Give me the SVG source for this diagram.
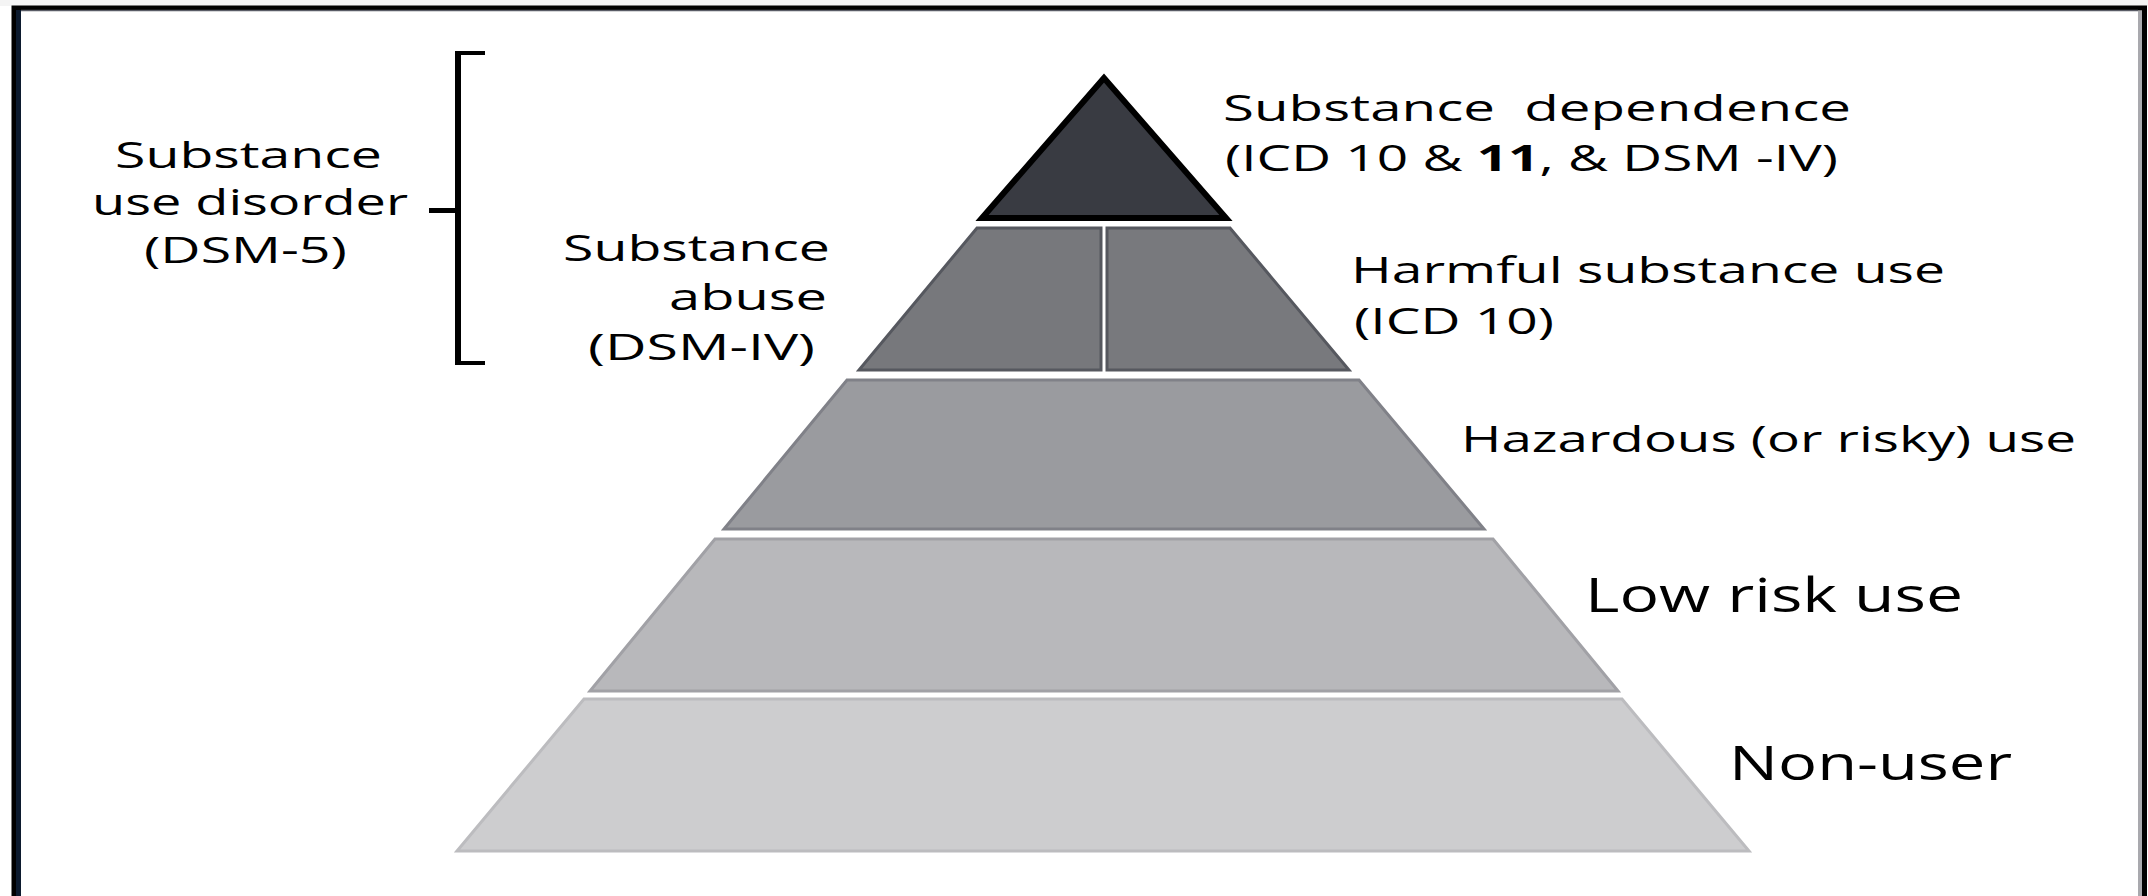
<svg xmlns="http://www.w3.org/2000/svg" width="2148" height="896" viewBox="0 0 2148 896">
<style>
.t{font-family:"Open Sans","Liberation Sans",sans-serif;font-size:36px;fill:#000;white-space:pre}
.big{font-size:48px}
.tier{stroke-width:3;stroke-linejoin:miter}
</style>
<rect x="0" y="0" width="2148" height="896" fill="#fff"/>
<rect x="0" y="0" width="2148" height="6" fill="#f4f4f4"/>
<g id="frame">
<path d="M14 896 V8 H2144.5 V896" fill="none" stroke="#000" stroke-width="5"/>
<line x1="18.5" y1="10" x2="18.5" y2="896" stroke="#0c1a2e" stroke-width="5"/>
<line x1="21" y1="10.5" x2="2138" y2="10.5" stroke="#5a5c66" stroke-width="1.5"/>
<line x1="2140" y1="11" x2="2140" y2="896" stroke="#a9a9ae" stroke-width="4"/>
</g>
<g id="tier-dependence">
<polygon points="1104,78 982,218 1226,218" fill="#393b42" stroke="#000" stroke-width="6"/>
</g>
<g id="tier-harmful">
<polygon class="tier" points="977,228 1101,228 1101,370 859,370" fill="#77787c" stroke="#56585f"/>
<polygon class="tier" points="1107,228 1230,228 1349,370 1107,370" fill="#78797d" stroke="#56585f"/>
</g>
<g id="tier-hazardous">
<polygon class="tier" points="847,380 1359,380 1484,529 724,529" fill="#9a9b9f" stroke="#808188"/>
</g>
<g id="tier-lowrisk">
<polygon class="tier" points="715,539 1493,539 1618,691 590,691" fill="#b8b8bb" stroke="#a1a1a6"/>
</g>
<g id="tier-nonuser">
<polygon class="tier" points="584,699 1622,699 1749,851 457,851" fill="#cdcdcf" stroke="#bcbcbf"/>
</g>
<g id="connectors">
<rect x="455" y="51" width="6" height="314" fill="#000"/>
<rect x="455" y="51" width="30" height="4" fill="#000"/>
<rect x="455" y="361" width="30" height="4" fill="#000"/>
<rect x="429" y="208" width="28" height="5" fill="#000"/>
</g>
<g id="label-sud">
<text class="t" x="115" y="168" textLength="267" lengthAdjust="spacingAndGlyphs">Substance</text>
<text class="t" x="92" y="215" textLength="316" lengthAdjust="spacingAndGlyphs">use disorder</text>
<text class="t" x="144" y="263" textLength="203" lengthAdjust="spacingAndGlyphs">(DSM-5)</text>
</g>
<g id="label-abuse">
<text class="t" x="563" y="261" textLength="267" lengthAdjust="spacingAndGlyphs">Substance</text>
<text class="t" x="669" y="310" textLength="158" lengthAdjust="spacingAndGlyphs">abuse</text>
<text class="t" x="588" y="360" textLength="227" lengthAdjust="spacingAndGlyphs">(DSM-IV)</text>
</g>
<g id="label-dependence">
<text class="t" x="1223" y="121" textLength="628" lengthAdjust="spacingAndGlyphs">Substance  dependence</text>
<text class="t" x="1225" y="171" textLength="613" lengthAdjust="spacingAndGlyphs">(ICD 10 &amp; <tspan font-weight="bold">11</tspan>, &amp; DSM -IV)</text>
</g>
<g id="label-harmful">
<text class="t" x="1351" y="283" textLength="594" lengthAdjust="spacingAndGlyphs">Harmful substance use</text>
<text class="t" x="1354" y="334" textLength="200" lengthAdjust="spacingAndGlyphs">(ICD 10)</text>
</g>
<g id="label-hazardous">
<text class="t" x="1461" y="452" textLength="615" lengthAdjust="spacingAndGlyphs">Hazardous (or risky) use</text>
</g>
<g id="label-lowrisk">
<text class="t big" x="1585" y="612" textLength="378" lengthAdjust="spacingAndGlyphs">Low risk use</text>
</g>
<g id="label-nonuser">
<text class="t big" x="1729" y="780" textLength="283" lengthAdjust="spacingAndGlyphs">Non-user</text>
</g>
</svg>
